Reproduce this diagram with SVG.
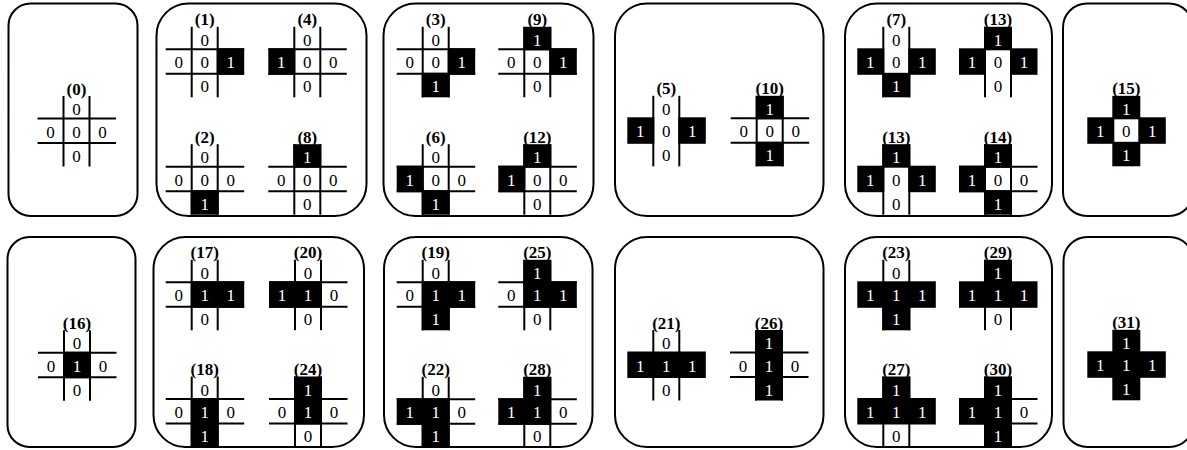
<svg xmlns="http://www.w3.org/2000/svg" xmlns:xlink="http://www.w3.org/1999/xlink" width="1187" height="450" viewBox="0 0 1187 450">
<style>
.box{fill:none;stroke:#000;stroke-width:2}
.pat text{font-family:"Liberation Serif","Times New Roman",serif;font-size:17px;text-anchor:middle;fill:#000}
.pat text.w{fill:#fff}
.pat text.lb{font-weight:bold}
</style>
<defs>
<g id="vl" stroke="#000" stroke-width="2"><line x1="0" y1="-22.5" x2="0" y2="48"/><line x1="26" y1="-22.5" x2="26" y2="48"/></g>
<g id="hl" stroke="#000" stroke-width="2"><line x1="-26" y1="0" x2="52.5" y2="0"/><line x1="-26" y1="24.5" x2="52.5" y2="24.5"/></g>
<rect id="cT" x="-1" y="-22.5" width="28" height="23.5" fill="#000"/>
<rect id="cL" x="-26" y="-1" width="27" height="26.5" fill="#000"/>
<rect id="cC" x="-1" y="-1" width="28" height="26.5" fill="#000"/>
<rect id="cR" x="25" y="-1" width="27.5" height="26.5" fill="#000"/>
<rect id="cB" x="-1" y="23.5" width="28" height="24.5" fill="#000"/>
</defs>
<rect width="1187" height="450" fill="#fff"/>
<g id="connectors"/>

<!-- TOP ROW -->
<g id="boxA">
<rect class="box" x="8.5" y="3.5" width="129" height="212.5" rx="22"/>
<g id="p0" class="pat" transform="translate(63.5,118.5)"><use href="#vl"/><use href="#hl"/>
<text class="lb" x="13" y="-24">(0)</text><text x="13" y="-3.5">0</text><text x="-13" y="19">0</text><text x="13" y="19">0</text><text x="39" y="19">0</text><text x="13" y="43">0</text></g>
</g>

<g id="boxB">
<rect class="box" x="156.5" y="3.5" width="210" height="212.5" rx="32"/>
<g id="p1" class="pat" transform="translate(191.7,49.3)"><use href="#vl"/><use href="#hl"/><use href="#cR"/>
<text class="lb" x="13" y="-24">(1)</text><text x="13" y="-3.5">0</text><text x="-13" y="19">0</text><text x="13" y="19">0</text><text class="w" x="39" y="19">1</text><text x="13" y="43">0</text></g>
<g id="p4" class="pat" transform="translate(294.3,49.3)"><use href="#vl"/><use href="#hl"/><use href="#cL"/>
<text class="lb" x="13" y="-24">(4)</text><text x="13" y="-3.5">0</text><text class="w" x="-13" y="19">1</text><text x="13" y="19">0</text><text x="39" y="19">0</text><text x="13" y="43">0</text></g>
<g id="p2" class="pat" transform="translate(191.7,166.7)"><use href="#vl"/><use href="#hl"/><use href="#cB"/>
<text class="lb" x="13" y="-24">(2)</text><text x="13" y="-3.5">0</text><text x="-13" y="19">0</text><text x="13" y="19">0</text><text x="39" y="19">0</text><text class="w" x="13" y="43">1</text></g>
<g id="p8" class="pat" transform="translate(294.3,166.7)"><use href="#vl"/><use href="#hl"/><use href="#cT"/>
<text class="lb" x="13" y="-24">(8)</text><text class="w" x="13" y="-3.5">1</text><text x="-13" y="19">0</text><text x="13" y="19">0</text><text x="39" y="19">0</text><text x="13" y="43">0</text></g>
</g>

<g id="boxC">
<rect class="box" x="383.5" y="3.5" width="210" height="212.5" rx="32"/>
<g id="p3" class="pat" transform="translate(422.7,49.3)"><use href="#vl"/><use href="#hl"/><use href="#cR"/><use href="#cB"/>
<text class="lb" x="13" y="-24">(3)</text><text x="13" y="-3.5">0</text><text x="-13" y="19">0</text><text x="13" y="19">0</text><text class="w" x="39" y="19">1</text><text class="w" x="13" y="43">1</text></g>
<g id="p9" class="pat" transform="translate(524.3,49.3)"><use href="#vl"/><use href="#hl"/><use href="#cT"/><use href="#cR"/>
<text class="lb" x="13" y="-24">(9)</text><text class="w" x="13" y="-3.5">1</text><text x="-13" y="19">0</text><text x="13" y="19">0</text><text class="w" x="39" y="19">1</text><text x="13" y="43">0</text></g>
<g id="p6" class="pat" transform="translate(422.7,166.7)"><use href="#vl"/><use href="#hl"/><use href="#cL"/><use href="#cB"/>
<text class="lb" x="13" y="-24">(6)</text><text x="13" y="-3.5">0</text><text class="w" x="-13" y="19">1</text><text x="13" y="19">0</text><text x="39" y="19">0</text><text class="w" x="13" y="43">1</text></g>
<g id="p12" class="pat" transform="translate(524.3,166.7)"><use href="#vl"/><use href="#hl"/><use href="#cT"/><use href="#cL"/>
<text class="lb" x="13" y="-24">(12)</text><text class="w" x="13" y="-3.5">1</text><text class="w" x="-13" y="19">1</text><text x="13" y="19">0</text><text x="39" y="19">0</text><text x="13" y="43">0</text></g>
</g>

<g id="boxD">
<rect class="box" x="615" y="3.5" width="208.5" height="212.5" rx="32"/>
<g id="p5" class="pat" transform="translate(653.3,118.3)"><use href="#vl"/><use href="#cL"/><use href="#cR"/>
<text class="lb" x="13" y="-24">(5)</text><text x="13" y="-3.5">0</text><text class="w" x="-13" y="19">1</text><text x="13" y="19">0</text><text class="w" x="39" y="19">1</text><text x="13" y="43">0</text></g>
<g id="p10" class="pat" transform="translate(756.7,118.3)"><use href="#vl"/><use href="#hl"/><use href="#cT"/><use href="#cB"/>
<text class="lb" x="13" y="-24">(10)</text><text class="w" x="13" y="-3.5">1</text><text x="-13" y="19">0</text><text x="13" y="19">0</text><text x="39" y="19">0</text><text class="w" x="13" y="43">1</text></g>
</g>

<g id="boxE">
<rect class="box" x="845" y="3.5" width="207" height="212.5" rx="32"/>
<g id="p7" class="pat" transform="translate(883.3,49.3)"><use href="#vl"/><use href="#cL"/><use href="#cR"/><use href="#cB"/>
<text class="lb" x="13" y="-24">(7)</text><text x="13" y="-3.5">0</text><text class="w" x="-13" y="19">1</text><text x="13" y="19">0</text><text class="w" x="39" y="19">1</text><text class="w" x="13" y="43">1</text></g>
<g id="p13a" class="pat" transform="translate(985,49.3)"><use href="#vl"/><use href="#cT"/><use href="#cL"/><use href="#cR"/>
<text class="lb" x="13" y="-24">(13)</text><text class="w" x="13" y="-3.5">1</text><text class="w" x="-13" y="19">1</text><text x="13" y="19">0</text><text class="w" x="39" y="19">1</text><text x="13" y="43">0</text></g>
<g id="p13b" class="pat" transform="translate(883.3,166.7)"><use href="#vl"/><use href="#cT"/><use href="#cL"/><use href="#cR"/>
<text class="lb" x="13" y="-24">(13)</text><text class="w" x="13" y="-3.5">1</text><text class="w" x="-13" y="19">1</text><text x="13" y="19">0</text><text class="w" x="39" y="19">1</text><text x="13" y="43">0</text></g>
<g id="p14" class="pat" transform="translate(985,166.7)"><use href="#vl"/><use href="#hl"/><use href="#cT"/><use href="#cL"/><use href="#cB"/>
<text class="lb" x="13" y="-24">(14)</text><text class="w" x="13" y="-3.5">1</text><text class="w" x="-13" y="19">1</text><text x="13" y="19">0</text><text x="39" y="19">0</text><text class="w" x="13" y="43">1</text></g>
</g>

<g id="boxF">
<rect class="box" x="1063" y="3.5" width="130" height="212.5" rx="24"/>
<g id="p15" class="pat" transform="translate(1113.3,118.3)"><use href="#cT"/><use href="#cL"/><use href="#cR"/><use href="#cB"/>
<text class="lb" x="13" y="-24">(15)</text><text class="w" x="13" y="-3.5">1</text><text class="w" x="-13" y="19">1</text><text x="13" y="19">0</text><text class="w" x="39" y="19">1</text><text class="w" x="13" y="43">1</text></g>
</g>

<!-- BOTTOM ROW -->
<g id="boxA2">
<rect class="box" x="7.5" y="237" width="128" height="210" rx="22"/>
<g id="p16" class="pat" transform="translate(64,352.7)"><use href="#vl"/><use href="#hl"/><use href="#cC"/>
<text class="lb" x="13" y="-24">(16)</text><text x="13" y="-3.5">0</text><text x="-13" y="19">0</text><text class="w" x="13" y="19">1</text><text x="39" y="19">0</text><text x="13" y="43">0</text></g>
</g>

<g id="boxB2">
<rect class="box" x="153.5" y="237" width="210.5" height="210" rx="32"/>
<g id="p17" class="pat" transform="translate(191.7,282.3)"><use href="#vl"/><use href="#hl"/><use href="#cC"/><use href="#cR"/>
<text class="lb" x="13" y="-24">(17)</text><text x="13" y="-3.5">0</text><text x="-13" y="19">0</text><text class="w" x="13" y="19">1</text><text class="w" x="39" y="19">1</text><text x="13" y="43">0</text></g>
<g id="p20" class="pat" transform="translate(295,282.3)"><use href="#vl"/><use href="#hl"/><use href="#cL"/><use href="#cC"/>
<text class="lb" x="13" y="-24">(20)</text><text x="13" y="-3.5">0</text><text class="w" x="-13" y="19">1</text><text class="w" x="13" y="19">1</text><text x="39" y="19">0</text><text x="13" y="43">0</text></g>
<g id="p18" class="pat" transform="translate(191.7,399)"><use href="#vl"/><use href="#hl"/><use href="#cC"/><use href="#cB"/>
<text class="lb" x="13" y="-24">(18)</text><text x="13" y="-3.5">0</text><text x="-13" y="19">0</text><text class="w" x="13" y="19">1</text><text x="39" y="19">0</text><text class="w" x="13" y="43">1</text></g>
<g id="p24" class="pat" transform="translate(295,399)"><use href="#vl"/><use href="#hl"/><use href="#cT"/><use href="#cC"/>
<text class="lb" x="13" y="-24">(24)</text><text class="w" x="13" y="-3.5">1</text><text x="-13" y="19">0</text><text class="w" x="13" y="19">1</text><text x="39" y="19">0</text><text x="13" y="43">0</text></g>
</g>

<g id="boxC2">
<rect class="box" x="384" y="237" width="208.5" height="210" rx="32"/>
<g id="p19" class="pat" transform="translate(422.7,282.3)"><use href="#vl"/><use href="#hl"/><use href="#cC"/><use href="#cR"/><use href="#cB"/>
<text class="lb" x="13" y="-24">(19)</text><text x="13" y="-3.5">0</text><text x="-13" y="19">0</text><text class="w" x="13" y="19">1</text><text class="w" x="39" y="19">1</text><text class="w" x="13" y="43">1</text></g>
<g id="p25" class="pat" transform="translate(524.3,282.3)"><use href="#vl"/><use href="#hl"/><use href="#cT"/><use href="#cC"/><use href="#cR"/>
<text class="lb" x="13" y="-24">(25)</text><text class="w" x="13" y="-3.5">1</text><text x="-13" y="19">0</text><text class="w" x="13" y="19">1</text><text class="w" x="39" y="19">1</text><text x="13" y="43">0</text></g>
<g id="p22" class="pat" transform="translate(422.7,399.3)"><use href="#vl"/><use href="#hl"/><use href="#cL"/><use href="#cC"/><use href="#cB"/>
<text class="lb" x="13" y="-24">(22)</text><text x="13" y="-3.5">0</text><text class="w" x="-13" y="19">1</text><text class="w" x="13" y="19">1</text><text x="39" y="19">0</text><text class="w" x="13" y="43">1</text></g>
<g id="p28" class="pat" transform="translate(524.3,399.3)"><use href="#vl"/><use href="#hl"/><use href="#cT"/><use href="#cL"/><use href="#cC"/>
<text class="lb" x="13" y="-24">(28)</text><text class="w" x="13" y="-3.5">1</text><text class="w" x="-13" y="19">1</text><text class="w" x="13" y="19">1</text><text x="39" y="19">0</text><text x="13" y="43">0</text></g>
</g>

<g id="boxD2">
<rect class="box" x="615" y="237" width="208.5" height="210" rx="32"/>
<g id="p21" class="pat" transform="translate(653.3,352.5)"><use href="#vl"/><use href="#cL"/><use href="#cC"/><use href="#cR"/>
<text class="lb" x="13" y="-24">(21)</text><text x="13" y="-3.5">0</text><text class="w" x="-13" y="19">1</text><text class="w" x="13" y="19">1</text><text class="w" x="39" y="19">1</text><text x="13" y="43">0</text></g>
<g id="p26" class="pat" transform="translate(756,352.5)"><use href="#vl"/><use href="#hl"/><use href="#cT"/><use href="#cC"/><use href="#cB"/>
<text class="lb" x="13" y="-24">(26)</text><text class="w" x="13" y="-3.5">1</text><text x="-13" y="19">0</text><text class="w" x="13" y="19">1</text><text x="39" y="19">0</text><text class="w" x="13" y="43">1</text></g>
</g>

<g id="boxE2">
<rect class="box" x="845" y="237" width="207" height="210" rx="32"/>
<g id="p23" class="pat" transform="translate(883.3,282.3)"><use href="#vl"/><use href="#cL"/><use href="#cC"/><use href="#cR"/><use href="#cB"/>
<text class="lb" x="13" y="-24">(23)</text><text x="13" y="-3.5">0</text><text class="w" x="-13" y="19">1</text><text class="w" x="13" y="19">1</text><text class="w" x="39" y="19">1</text><text class="w" x="13" y="43">1</text></g>
<g id="p29" class="pat" transform="translate(985,282.3)"><use href="#vl"/><use href="#cT"/><use href="#cL"/><use href="#cC"/><use href="#cR"/>
<text class="lb" x="13" y="-24">(29)</text><text class="w" x="13" y="-3.5">1</text><text class="w" x="-13" y="19">1</text><text class="w" x="13" y="19">1</text><text class="w" x="39" y="19">1</text><text x="13" y="43">0</text></g>
<g id="p27" class="pat" transform="translate(883.3,399)"><use href="#vl"/><use href="#cT"/><use href="#cL"/><use href="#cC"/><use href="#cR"/>
<text class="lb" x="13" y="-24">(27)</text><text class="w" x="13" y="-3.5">1</text><text class="w" x="-13" y="19">1</text><text class="w" x="13" y="19">1</text><text class="w" x="39" y="19">1</text><text x="13" y="43">0</text></g>
<g id="p30" class="pat" transform="translate(985,399)"><use href="#vl"/><use href="#hl"/><use href="#cT"/><use href="#cL"/><use href="#cC"/><use href="#cB"/>
<text class="lb" x="13" y="-24">(30)</text><text class="w" x="13" y="-3.5">1</text><text class="w" x="-13" y="19">1</text><text class="w" x="13" y="19">1</text><text x="39" y="19">0</text><text class="w" x="13" y="43">1</text></g>
</g>

<g id="boxF2">
<rect class="box" x="1063.5" y="237" width="130" height="210" rx="24"/>
<g id="p31" class="pat" transform="translate(1113.3,352.3)"><use href="#cT"/><use href="#cL"/><use href="#cC"/><use href="#cR"/><use href="#cB"/>
<text class="lb" x="13" y="-24">(31)</text><text class="w" x="13" y="-3.5">1</text><text class="w" x="-13" y="19">1</text><text class="w" x="13" y="19">1</text><text class="w" x="39" y="19">1</text><text class="w" x="13" y="43">1</text></g>
</g>
</svg>
